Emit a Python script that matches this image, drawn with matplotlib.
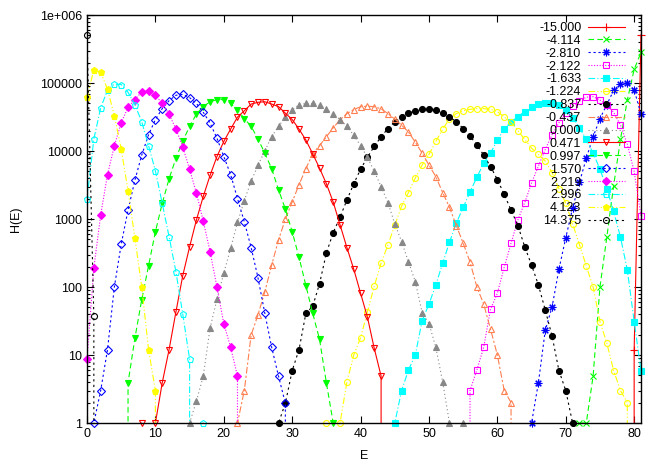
import numpy as np
import matplotlib
matplotlib.use('Agg')
import matplotlib.pyplot as plt
from matplotlib.lines import Line2D
from matplotlib.ticker import FixedLocator, FixedFormatter, LogLocator, NullFormatter

plt.rcParams['font.family'] = ['Liberation Sans', 'DejaVu Sans']
plt.rcParams['font.size'] = 9

# legend labels (beta values)
labels = ['-15.000', '-4.114', '-2.810', '-2.122', '-1.633', '-1.224', '-0.837', '-0.437',
          '0.000', '0.471', '0.997', '1.570', '2.219', '2.996', '4.123', '14.375']

# first E value of each histogram
e_start = [79, 71, 64, 55, 44, 34, 27, 21, 14, 7, 5, 0, 0, 0, 0, 0]

# H(E) values (0 = empty bin)
h_m15000 = [0, 12, 510000]
h_m4114 = [0, 1, 1, 4.9, 100, 540, 3100, 14800, 56000, 158000, 282000]
h_m2810 = [0, 1, 3.9, 23, 51, 182, 530, 1440, 3450, 7800, 16200, 30000, 48000, 78000,
           98000, 100000, 79000, 35000]
h_m2122 = [0, 3, 6, 13, 47, 81, 195, 440, 970, 1740, 3400, 6000, 10500, 17400, 26000,
           36000, 46000, 54000, 62000, 63000, 56000, 48000, 37000, 24000, 12600, 5000, 1100]
h_m1633 = [0, 1, 3, 6, 10, 32, 56, 107, 224, 455, 870, 1480, 2500, 4100, 6600, 9300,
           14500, 21000, 27000, 32000, 38000, 45000, 49000, 51000, 51000, 47000, 40000,
           31000, 22000, 14800, 9300, 5400, 2800, 1290, 540, 178, 31, 5.9]
h_m1224 = [0, 1, 0, 1, 4, 10, 18, 43, 103, 224, 417, 810, 1550, 2450, 4000, 6200, 8900,
           13800, 21000, 29500, 35500, 39000, 41000, 42000, 42000, 41000, 38000, 31600,
           26300, 20000, 14800, 11000, 8900, 7100, 4800, 2800, 1700, 850, 420, 204, 100,
           31, 15, 5.9, 3, 2, 0]
h_m0837 = [0, 1, 1.95, 5.9, 12, 41, 52, 112, 316, 630, 1070, 1900, 3300, 5400, 8100,
           11700, 16200, 21400, 27000, 31600, 36000, 39000, 41000, 41700, 40000, 36000,
           31600, 27000, 21400, 16600, 12300, 8700, 5900, 3800, 2300, 1350, 800, 390, 210,
           107, 46, 19, 5.9, 3, 1, 0]
h_m0437 = [0, 1, 3, 19.7, 39, 85, 210, 490, 1000, 1780, 3200, 5500, 9100, 12000, 16200,
           21900, 28800, 35500, 40700, 44700, 45700, 44700, 41700, 35500, 29500, 24000,
           19000, 13500, 9300, 6200, 4200, 2450, 1480, 800, 440, 234, 100, 56, 24, 10, 3,
           2, 0]
h_0000 = [0, 1, 2.1, 4.9, 25, 66, 160, 370, 890, 1860, 3600, 6200, 10000, 16300, 23000,
          31500, 40000, 48000, 50000, 50000, 47000, 41000, 35000, 29000, 23000, 17000,
          12000, 8100, 5000, 3000, 1740, 850, 465, 235, 120, 42, 29, 13, 4, 1, 0, 1, 0]
h_0471 = [0, 1, 0, 1, 3.9, 12, 43, 147, 390, 970, 2150, 4400, 8300, 13800, 21000, 31500,
          39000, 49000, 52000, 53000, 49000, 45000, 36000, 29000, 21000, 14500, 9100,
          5600, 3300, 1770, 820, 380, 183, 81, 36, 12.5, 4.9, 0]
h_0997 = [0, 3.9, 17.6, 65, 205, 650, 1700, 3900, 7800, 14000, 23000, 35000, 45000,
          53000, 57000, 57000, 50000, 40000, 30000, 23000, 15000, 9300, 5500, 2700, 1400,
          650, 274, 105, 41, 17, 3.9, 1, 0]
h_1570 = [0, 1, 3, 12, 100, 425, 1350, 3700, 8700, 17300, 29000, 42000, 55000, 66000,
          68000, 61000, 50000, 37000, 25700, 15400, 8300, 4500, 2000, 910, 380, 137, 41,
          13, 4.9, 1.95, 0]
h_2219 = [8.7, 190, 1150, 4500, 12000, 26000, 44000, 57000, 74000, 77000, 66000, 50000,
          35000, 21000, 11500, 5400, 2400, 930, 330, 100, 29, 13, 4.9, 0]
h_2996 = [1950, 15000, 43000, 79000, 96000, 95000, 73000, 48000, 27000, 12000, 5100, 1700,
          550, 168, 40, 8.7, 0, 1, 0]
h_4123 = [63000, 155000, 144000, 81000, 33000, 10700, 2600, 530, 100, 12, 3, 0]
h_14375 = [510000, 37, 0]

series = [h_m15000, h_m4114, h_m2810, h_m2122, h_m1633, h_m1224, h_m0837, h_m0437,
          h_0000, h_0471, h_0997, h_1570, h_2219, h_2996, h_4123, h_14375]

# gnuplot style line types (9 colours repeating)
colors = ['#ff0000', '#00ff00', '#0000ff', '#ff00ff', '#00ffff', '#ffff00', '#000000',
          '#ff7f50', '#888888']
dashes = ['-', (0, (5, 3)), (0, (2, 2.5)), (0, (1, 1.5)), (0, (6, 2, 1, 2)),
          (0, (6, 2, 1, 2, 1, 2)), (0, (2, 3)), (0, (6, 2, 2, 2)), (0, (1, 2.5))]
markers = ['+', 'x', (8, 2, 0), 's', 's', 'o', 'o', '^', '^', 'v', 'v', 'D', 'D', 'p', 'p', 'o']
filled = [True, True, True, False, True, False, True, False, True, False, True, False, True,
          False, True, False]
msizes = [5.5, 4.5, 5.5, 4, 4, 4.3, 4.3, 4.8, 4.8, 4.8, 4.8, 3.6, 3.6, 4.8, 4.8, 4.3]

fig = plt.figure(figsize=(6.64, 4.65), dpi=100)
ax = fig.add_axes([87 / 664, 1 - 423 / 465, (641 - 87) / 664, (423 - 15) / 465])
ax.set_yscale('log', nonpositive='clip')

handles = []
for i, h in enumerate(series):
    e = np.arange(e_start[i], e_start[i] + len(h))
    h = np.array(h, dtype=float)
    c = colors[i % 9]
    ls = dashes[i % 9]
    mfc = c if filled[i] else 'none'
    ax.plot(e, h, color=c, linestyle=ls, linewidth=0.8)
    keep = h > 0
    ax.plot(e[keep], h[keep], linestyle='none', marker=markers[i], ms=msizes[i],
            mec=c, mfc=mfc, mew=0.8, clip_on=False)
    handles.append(Line2D([], [], color=c, linestyle=ls, linewidth=0.8, marker=markers[i],
                          ms=msizes[i], mec=c, mfc=mfc, mew=0.8, label=labels[i]))

ax.set_xlim(0, 81)
ax.set_ylim(1, 1e6)
ax.set_xticks(range(0, 81, 10))
ax.yaxis.set_major_locator(FixedLocator([1, 10, 100, 1000, 10000, 100000, 1e6]))
ax.yaxis.set_major_formatter(FixedFormatter(['1', '10', '100', '1000', '10000', '100000', '1e+006']))
ax.yaxis.set_minor_locator(LogLocator(base=10, subs=np.arange(2, 10)))
ax.yaxis.set_minor_formatter(NullFormatter())
ax.tick_params(which='both', direction='in', top=True, right=True, labelsize=9)
ax.tick_params(which='major', length=5, width=0.8)
ax.tick_params(which='minor', length=2.5, width=0.8)
for sp in ax.spines.values():
    sp.set_linewidth(1.0)

ax.set_xlabel('E', fontsize=9, labelpad=7)
ax.set_ylabel('H(E)', fontsize=9, labelpad=13)

leg = ax.legend(handles=handles, loc='upper right', bbox_to_anchor=(625 / 664, 1 - 22 / 465),
                bbox_transform=fig.transFigure, frameon=False, markerfirst=False,
                fontsize=9, handlelength=3.0, handletextpad=0.5, labelspacing=0.07,
                borderpad=0, borderaxespad=0)
for t in leg.get_texts():
    t.set_ha('right')

fig.savefig('out.png', dpi=100)
